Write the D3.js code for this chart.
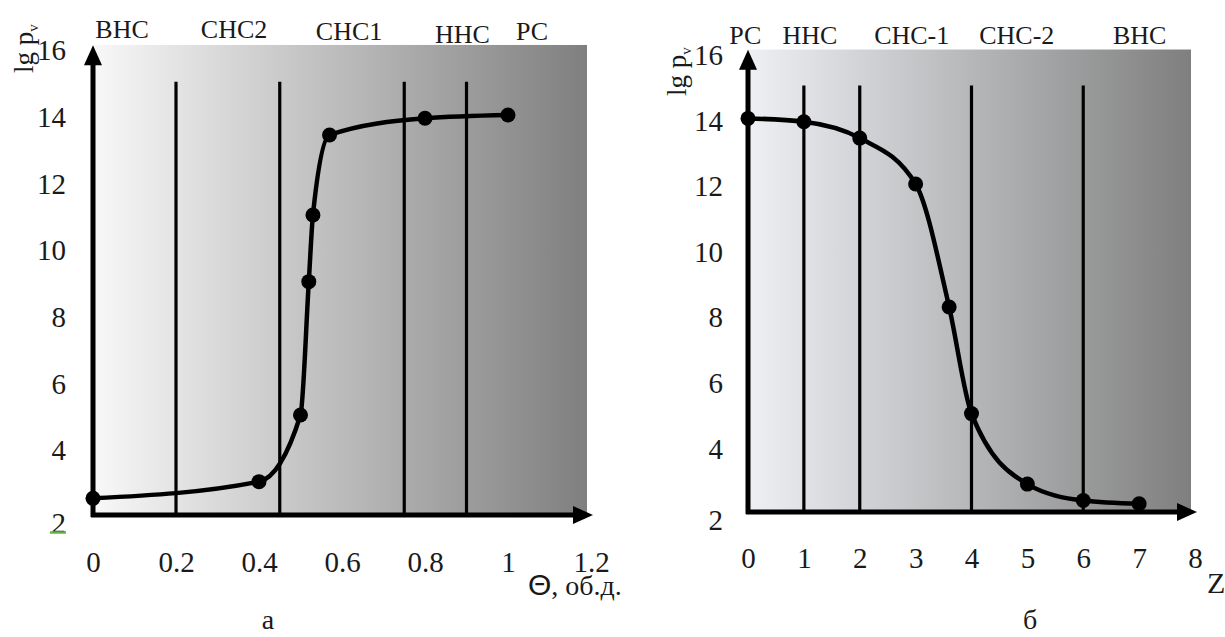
<!DOCTYPE html>
<html>
<head>
<meta charset="utf-8">
<script src="https://cdn.jsdelivr.net/npm/d3@7"></script>
<style>
body { margin: 0; background: #fff; }
svg { display: block; }
</style>
</head>
<body>
<svg id="chart" width="1225" height="637" font-family="Liberation Serif, serif"></svg>
<script>
// panel a: lg p_v vs theta
const thetaVals = [0, 0.4, 0.5, 0.52, 0.53, 0.57, 0.8, 1]
const lgPa = [2.5, 3, 5, 9, 11, 13.4, 13.9, 14]
const thetaTicks = [0, 0.2, 0.4, 0.6, 0.8, 1, 1.2]
const thetaBounds = [0.2, 0.45, 0.75, 0.9]
const zonesA = ["ВНС", "СНС2", "СНС1", "ННС", "РС"]
const zonesAPos = [0.07, 0.34, 0.617, 0.89, 1.058]

// panel b: lg p_v vs Z
const zVals = [0, 1, 2, 3, 3.6, 4, 5, 6, 7]
const lgPb = [14, 13.9, 13.4, 12, 8.25, 5, 2.85, 2.35, 2.25]
const zTicks = [0, 1, 2, 3, 4, 5, 6, 7, 8]
const zBounds = [1, 2, 4, 6]
const zonesB = ["РС", "ННС", "СНС-1", "СНС-2", "ВНС"]
const zonesBPos = [-0.05, 1.11, 2.93, 4.81, 7.01]

const yTicks = [2, 4, 6, 8, 10, 12, 14, 16]

const serif = "Liberation Serif, serif"
const svg = d3.select("#chart")
const defs = svg.append("defs")

function panel(o) {
    const x = d3.scaleLinear().domain(o.xDomain).range(o.xRange)
    const y = d3.scaleLinear().domain([2, 16]).range(o.yRange)
    const g = svg.append("g")

    const grad = defs.append("linearGradient").attr("id", o.id + "_grad")
        .attr("x1", 0).attr("x2", 1).attr("y1", 0).attr("y2", 0)
    grad.append("stop").attr("offset", 0).attr("stop-color", o.c0)
    grad.append("stop").attr("offset", 1).attr("stop-color", "#7f7f7f")

    const right = o.xRange[1] - 4
    g.append("rect")
        .attr("x", x(0)).attr("y", y(16.1))
        .attr("width", right - x(0)).attr("height", y(2) - y(16.1))
        .attr("fill", `url(#${o.id}_grad)`)

    // zone boundaries
    g.append("g").selectAll("line").data(o.bounds).join("line")
        .attr("x1", d => x(d)).attr("x2", d => x(d))
        .attr("y1", y(2)).attr("y2", y(15))
        .attr("stroke", "#000").attr("stroke-width", 3.2)

    // axis lines with arrows
    const x0 = x(0), y0 = y(2)
    const yTip = y(16) - 3, xTip = o.xRange[1] + 2
    g.append("line").attr("x1", x0).attr("x2", x0).attr("y1", y0 + 2).attr("y2", yTip + 16)
        .attr("stroke", "#000").attr("stroke-width", 5)
    g.append("line").attr("x1", x0 - 2).attr("x2", xTip - 16).attr("y1", y0).attr("y2", y0)
        .attr("stroke", "#000").attr("stroke-width", 5)
    g.append("path")
        .attr("d", `M${x0},${yTip}L${x0 - 9},${yTip + 20}L${x0 + 9},${yTip + 20}Z`)
        .attr("fill", "#000")
    g.append("path")
        .attr("d", `M${xTip},${y0}L${xTip - 20},${y0 - 9}L${xTip - 20},${y0 + 9}Z`)
        .attr("fill", "#000")

    // tick labels
    const yAxis = g.append("g")
        .attr("transform", `translate(${x0},0)`)
        .call(d3.axisLeft(y).tickValues(yTicks).tickSize(0).tickPadding(o.yPad))
        .call(g => g.select(".domain").remove())
        .attr("font-size", 29).attr("font-family", serif)
    yAxis.selectAll("text").attr("fill", "#1a1a1a").attr("dy", d => d === 2 ? "0.6em" : "0.4em")
    if (o.underline) {
        yAxis.selectAll(".tick").filter(d => d === 2).append("line")
            .attr("x1", -o.yPad - 16).attr("x2", -o.yPad).attr("y1", 17).attr("y2", 17)
            .attr("stroke", "#5cb83a").attr("stroke-width", 2.5)
    }

    const xAxis = g.append("g")
        .attr("transform", `translate(0,${y0})`)
        .call(d3.axisBottom(x).tickValues(o.xTicks).tickSize(0).tickPadding(o.xPad)
            .tickFormat(d => String(d)))
        .call(g => g.select(".domain").remove())
        .attr("font-size", 29).attr("font-family", serif)
    xAxis.selectAll("text").attr("fill", "#1a1a1a")

    // zone names
    g.append("g").attr("font-size", 26).attr("font-family", serif)
        .attr("fill", "#1a1a1a").attr("text-anchor", "middle")
        .selectAll("text").data(o.zones).join("text")
        .attr("x", (d, i) => x(o.zonePos[i]))
        .attr("y", (d, i) => y(16) - 9 + (o.zoneDy ? o.zoneDy[i] : 0))
        .text(d => d)

    // curve and points
    const pts = d3.zip(o.xs, o.ys)
    const line = d3.line().x(d => x(d[0])).y(d => y(d[1])).curve(d3.curveMonotoneX)
    g.append("path").datum(pts).attr("d", line)
        .attr("fill", "none").attr("stroke", "#000").attr("stroke-width", 4.5)
    g.append("g").selectAll("circle").data(pts).join("circle")
        .attr("cx", d => x(d[0])).attr("cy", d => y(d[1])).attr("r", 7.5).attr("fill", "#000")

    // y label
    const yl = g.append("text")
        .attr("transform", `translate(${o.ylab[0]},${o.ylab[1]}) rotate(-90)`)
        .attr("font-size", 27).attr("font-family", serif).attr("fill", "#1a1a1a")
    yl.append("tspan").text("lg p")
    yl.append("tspan").attr("font-size", 15).attr("dy", 5).text("v")

    return {x, y}
}

panel({
    id: "a", xDomain: [0, 1.2], xRange: [93, 591], yRange: [515, 48.3],
    c0: "#f8f8f8", bounds: thetaBounds, xTicks: thetaTicks, yPad: 27, xPad: 36,
    zones: zonesA, zonePos: zonesAPos, zoneDy: [-1, -1, 1, 4, 1],
    xs: thetaVals, ys: lgPa, ylab: [33, 73], underline: true
})

panel({
    id: "b", xDomain: [0, 8], xRange: [748, 1195], yRange: [512, 52.8],
    c0: "#eef0f4", bounds: zBounds, xTicks: zTicks, yPad: 25, xPad: 35,
    zones: zonesB, zonePos: zonesBPos,
    xs: zVals, ys: lgPb, ylab: [686, 96]
})

// axis titles and panel letters
const lab = svg.append("g").attr("fill", "#1a1a1a").attr("font-family", serif)
const th = lab.append("text").attr("x", 528).attr("y", 595).attr("font-size", 28)
th.append("tspan").attr("font-family", "Liberation Sans, Arial, sans-serif").attr("font-size", 30).text("Θ")
th.append("tspan").text(", об.д.")
lab.append("text").attr("x", 1207).attr("y", 593).attr("font-size", 30).text("Z")
lab.append("text").attr("x", 268).attr("y", 629).attr("font-size", 28).attr("text-anchor", "middle").text("а")
lab.append("text").attr("x", 1030).attr("y", 629).attr("font-size", 28).attr("text-anchor", "middle").text("б")
</script>
</body>
</html>
